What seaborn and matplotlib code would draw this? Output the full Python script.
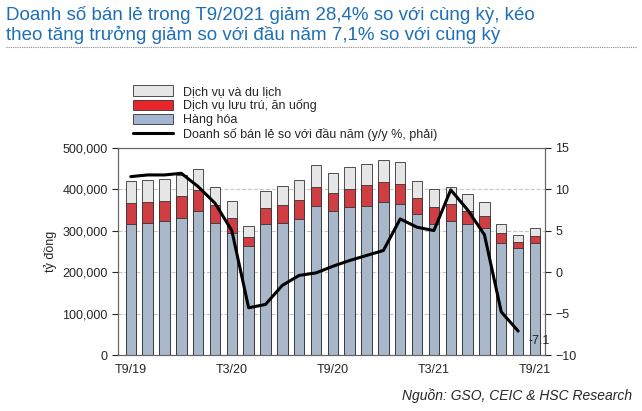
import numpy as np
import pandas as pd
import matplotlib
matplotlib.use("Agg")
import matplotlib.pyplot as plt
import seaborn as sns

months = ["T9/19", "T10/19", "T11/19", "T12/19", "T1/20", "T2/20", "T3/20", "T4/20", "T5/20",
          "T6/20", "T7/20", "T8/20", "T9/20", "T10/20", "T11/20", "T12/20", "T1/21", "T2/21",
          "T3/21", "T4/21", "T5/21", "T6/21", "T7/21", "T8/21", "T9/21"]
goods = [317, 319, 322, 331, 347, 319, 295, 263, 315, 319, 327, 358, 347, 356, 360, 369, 365,
         341, 317, 323, 315, 307, 270, 257, 269]
lodging = [50, 50, 50, 53, 50, 42, 36, 22, 39, 42, 46, 48, 44, 45, 49, 49, 48, 37, 39, 40, 33, 27, 23, 16, 19]
travel = [53, 54, 53, 49, 52, 43, 40, 26, 42, 47, 49, 53, 48, 51, 52, 52, 51, 42, 43, 42, 41, 35, 23, 16, 19]
ytd_growth = [11.5, 11.7, 11.7, 11.9, 10.3, 8.3, 5.0, -4.3, -3.9, -1.6, -0.4, -0.1, 0.7, 1.4,
              2.0, 2.6, 6.4, 5.4, 5.0, 9.9, 7.5, 4.5, -4.8, -7.1]
tick_labels = {0: "T9/19", 6: "T3/20", 12: "T9/20", 18: "T3/21", 24: "T9/21"}

sns.set_style("white")
plt.rcParams['font.family'] = ['Liberation Sans', 'DejaVu Sans']

df = pd.DataFrame({"month": months, "goods": np.array(goods) * 1000,
                   "lodging": np.array(lodging) * 1000, "travel": np.array(travel) * 1000})
df["mid"] = df["goods"] + df["lodging"]
df["total"] = df["mid"] + df["travel"]

fig = plt.figure(figsize=(6.42, 4.11), dpi=100)
ax = fig.add_axes([0.184, 0.136, 0.665, 0.505])

kw = dict(x="month", ax=ax, width=0.62, edgecolor="#333333", linewidth=0.6, zorder=2)
sns.barplot(data=df, y="total", color="#e6e6e6", **kw)
sns.barplot(data=df, y="mid", color="#e8262c", **kw)
sns.barplot(data=df, y="goods", color="#a3b6d1", **kw)

ax.set_ylim(0, 500000)
ax.set_xlim(-0.75, 24.6)
ax.set_yticks(range(0, 500001, 100000))
ax.yaxis.set_major_formatter(matplotlib.ticker.FuncFormatter(lambda v, _: f"{int(v):,}"))
ax.yaxis.grid(True, linestyle="--", color="#c8c8c8", linewidth=0.8, zorder=0)
ax.set_axisbelow(True)
ax.set_xticks([i - 0.5 for i in range(0, 25, 3)])
ax.set_xticklabels([""] * 9)
for i, lab in tick_labels.items():
    ax.text(i, -0.045, lab, transform=ax.get_xaxis_transform(), ha="center", va="top", fontsize=9)
ax.tick_params(axis="x", length=4, direction="out", color="#444444")
ax.tick_params(axis="y", labelsize=9, length=4, left=True)
ax.set_xlabel("")
ax.set_ylabel("tỷ đồng", fontsize=9)
for s in ax.spines.values():
    s.set_color("#666666")

ax2 = ax.twinx()
ax2.plot(range(len(ytd_growth)), ytd_growth, color="black", linewidth=2.2, zorder=5)
ax2.set_ylim(-10, 15)
ax2.set_yticks(range(-10, 16, 5))
ax2.tick_params(axis="y", labelsize=9, length=4, right=True)
ax2.text(len(ytd_growth) - 0.4, ytd_growth[-1] - 1.2, "-7.1", fontsize=9, va="center")
for s in ax2.spines.values():
    s.set_color("#666666")

handles = [plt.Rectangle((0, 0), 1, 1, fc="#e6e6e6", ec="#333333", lw=0.6),
           plt.Rectangle((0, 0), 1, 1, fc="#e8262c", ec="#333333", lw=0.6),
           plt.Rectangle((0, 0), 1, 1, fc="#a3b6d1", ec="#333333", lw=0.6),
           plt.Line2D([0], [0], color="black", lw=2.2)]
labels = ["Dịch vụ và du lịch", "Dịch vụ lưu trú, ăn uống", "Hàng hóa",
          "Doanh số bán lẻ so với đầu năm (y/y %, phải)"]
fig.legend(handles, labels, loc="upper left", bbox_to_anchor=(0.2, 0.805), frameon=False,
           fontsize=9, handlelength=3.2, handleheight=0.9, labelspacing=0.12, borderaxespad=0)

fig.text(0.01, 0.985, "Doanh số bán lẻ trong T9/2021 giảm 28,4% so với cùng kỳ, kéo\n"
         "theo tăng trưởng giảm so với đầu năm 7,1% so với cùng kỳ",
         color="#1f6fb5", fontsize=13.5, va="top", ha="left", linespacing=1.1)
fig.add_artist(plt.Line2D([0.01, 0.99], [0.885, 0.885], color="#888888", lw=0.8,
                          linestyle=(0, (1, 1)), transform=fig.transFigure))
fig.text(0.985, 0.02, "Nguồn: GSO, CEIC & HSC Research", fontsize=10, style="italic",
         ha="right", va="bottom")

fig.savefig("out.png", dpi=100)
